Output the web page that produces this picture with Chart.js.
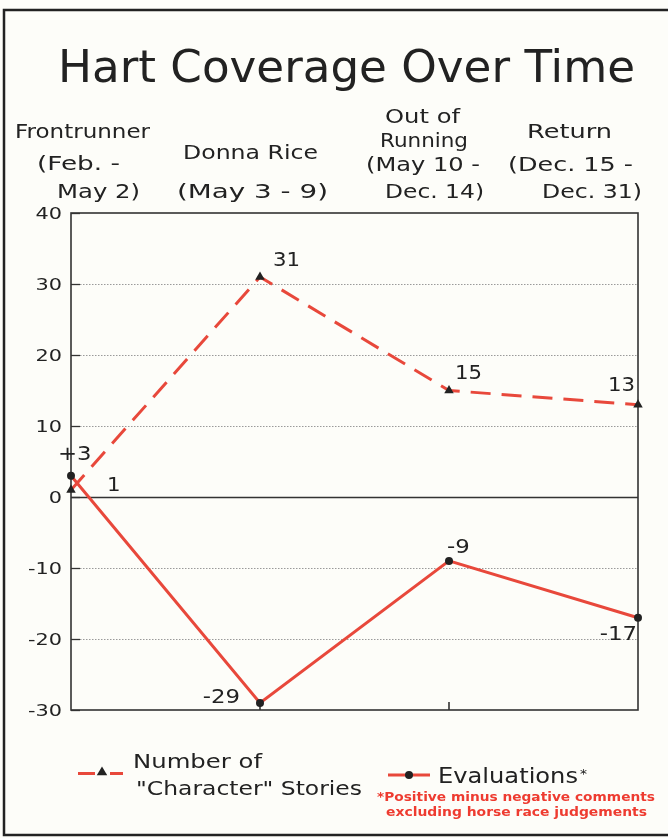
<!DOCTYPE html>
<html><head><meta charset="utf-8">
<script src="https://cdn.jsdelivr.net/npm/chart.js@4.4.1/dist/chart.umd.min.js"></script>
<style>html,body{margin:0;padding:0;background:#fdfdf9;} canvas{display:block}</style>
</head><body>
<canvas id="c" width="668" height="838"></canvas>
<script>
// ---- data ----
const title = 'Hart Coverage Over Time';
const categories = ['Frontrunner (Feb. - May 2)', 'Donna Rice (May 3 - 9)', 'Out of Running (May 10 - Dec. 14)', 'Return (Dec. 15 - Dec. 31)'];
const categoryLines = [['Frontrunner', '(Feb. -', 'May 2)'], ['Donna Rice', '(May 3 - 9)'], ['Out of', 'Running', '(May 10 -', 'Dec. 14)'], ['Return', '(Dec. 15 -', 'Dec. 31)']];
const characterStories = [1, 31, 15, 13];
const evaluations = [3, -29, -9, -17];
const yTicks = [40, 30, 20, 10, 0, -10, -20, -30];
const legendStories = ['Number of', '"Character" Stories'];
const legendEval = 'Evaluations';
const footnote = ['*Positive minus negative comments', 'excluding horse race judgements'];

// ---- styles / layout ----
const RED = '#e8483b';
const INK = '#222';
const catLayout = [
  [[15,138,135],[37,170,83],[57,198,83]],
  [[183,159,135],[177,198,151]],
  [[385,123,75],[380,147,88],[366,171,114],[385,198,99]],
  [[527,138,85],[508,171,125],[542,198,100]]
];
// [dx from point, dy from point (baseline), align]
const storyLabelOff = [[36,1,'left'],[13,-11,'left'],[6,-12,'left'],[-3,-14,'right']];
const evalLabelOff = [[-13,-16,'left'],[-20,0,'right'],[-2,-8,'left'],[-1,22,'right']];

function fitText(ctx, txt, left, base, width, size, weight, color){
  ctx.save();
  ctx.font = `${weight} ${size}px "DejaVu Sans"`;
  ctx.fillStyle = color; ctx.textAlign = 'left'; ctx.textBaseline = 'alphabetic';
  const w = ctx.measureText(txt).width;
  ctx.translate(left, base); ctx.scale(width / w, 1);
  ctx.fillText(txt, 0, 0);
  ctx.restore();
}
function stretchText(ctx, txt, x, base, sx, size, weight, color, align){
  ctx.save();
  ctx.font = `${weight} ${size}px "DejaVu Sans"`;
  ctx.fillStyle = color; ctx.textBaseline = 'alphabetic';
  const w = ctx.measureText(txt).width * sx;
  let left = align === 'right' ? x - w : (align === 'center' ? x - w/2 : x);
  ctx.translate(left, base); ctx.scale(sx, 1);
  ctx.textAlign = 'left';
  ctx.fillText(txt, 0, 0);
  ctx.restore();
}
function triangle(ctx, x, y, r){
  ctx.beginPath(); ctx.moveTo(x, y - r); ctx.lineTo(x + r*0.95, y + r*0.6); ctx.lineTo(x - r*0.95, y + r*0.6); ctx.closePath();
  ctx.fillStyle = INK; ctx.fill();
}
function dot(ctx, x, y, r){
  ctx.beginPath(); ctx.arc(x, y, r, 0, Math.PI*2); ctx.fillStyle = INK; ctx.fill();
}

const decor = {
  id: 'decor',
  beforeDraw(chart){
    const ctx = chart.ctx, a = chart.chartArea, ys = chart.scales.y, xs = chart.scales.x;
    ctx.save();
    ctx.fillStyle = '#fdfdf9'; ctx.fillRect(0, 0, chart.width, chart.height);
    // frame
    ctx.strokeStyle = INK; ctx.lineWidth = 2.5;
    ctx.strokeRect(4, 10, 720, 825);
    // grid
    yTicks.forEach(v => {
      const y = Math.round(ys.getPixelForValue(v)) + 0.5;
      if (v !== 0 && v !== 40 && v !== -30) {
        ctx.strokeStyle = '#9a9a9a'; ctx.lineWidth = 1; ctx.setLineDash([1.5, 1.5]);
        ctx.beginPath(); ctx.moveTo(a.left + 9, y); ctx.lineTo(a.right, y); ctx.stroke();
        ctx.setLineDash([]);
      }
      ctx.strokeStyle = '#333'; ctx.lineWidth = 1.3;
      ctx.beginPath(); ctx.moveTo(a.left, y); ctx.lineTo(a.left + 9, y); ctx.stroke();
      stretchText(ctx, String(v), a.left - 9, ys.getPixelForValue(v) + 6, 1.3, 16, 'normal', INK, 'right');
    });
    // zero line
    ctx.strokeStyle = '#333'; ctx.lineWidth = 1.5;
    const y0 = Math.round(ys.getPixelForValue(0)) + 0.5;
    ctx.beginPath(); ctx.moveTo(a.left, y0); ctx.lineTo(a.right, y0); ctx.stroke();
    // box
    ctx.lineWidth = 1.6;
    ctx.strokeRect(a.left, a.top, a.right - a.left, a.bottom - a.top);
    // bottom ticks
    [1, 2].forEach(i => {
      const x = xs.getPixelForValue(i);
      ctx.beginPath(); ctx.moveTo(x, a.bottom); ctx.lineTo(x, a.bottom - 8); ctx.stroke();
    });
    // title
    fitText(ctx, title, 58, 82, 577, 44, 'normal', INK);
    // category labels
    categoryLines.forEach((lines, i) => {
      lines.forEach((t, j) => {
        const L = catLayout[i][j];
        fitText(ctx, t, L[0], L[1], L[2], 19.5, 'normal', INK);
      });
    });
    ctx.restore();
  },
  afterDatasetsDraw(chart){
    const ctx = chart.ctx;
    ctx.save();
    const m0 = chart.getDatasetMeta(0).data, m1 = chart.getDatasetMeta(1).data;
    characterStories.forEach((v, i) => {
      const o = storyLabelOff[i];
      stretchText(ctx, String(v), m0[i].x + o[0], m0[i].y + o[1], 1.12, 19, 'normal', INK, o[2]);
    });
    evaluations.forEach((v, i) => {
      const o = evalLabelOff[i];
      const t = v > 0 ? '+' + v : String(v);
      stretchText(ctx, t, m1[i].x + o[0], m1[i].y + o[1], 1.2, 19, 'normal', INK, o[2]);
    });
    // legend
    ctx.strokeStyle = RED; ctx.lineWidth = 3;
    ctx.beginPath(); ctx.moveTo(78, 773.5); ctx.lineTo(95, 773.5); ctx.moveTo(110, 773.5); ctx.lineTo(123, 773.5); ctx.stroke();
    triangle(ctx, 102, 772, 5.5);
    fitText(ctx, legendStories[0], 133, 768, 129, 19.5, 'normal', INK);
    fitText(ctx, legendStories[1], 136, 795, 226, 19.5, 'normal', INK);
    ctx.strokeStyle = RED; ctx.lineWidth = 3;
    ctx.beginPath(); ctx.moveTo(388, 775); ctx.lineTo(430, 775); ctx.stroke();
    dot(ctx, 409, 775, 4);
    fitText(ctx, legendEval, 438, 783, 140, 20.5, 'normal', INK);
    fitText(ctx, '*', 580, 778, 7, 12, 'normal', INK);
    fitText(ctx, footnote[0], 377, 801, 278, 12.5, 'bold', '#ee3b30');
    fitText(ctx, footnote[1], 386, 816, 261, 12.5, 'bold', '#ee3b30');
    ctx.restore();
  }
};

new Chart(document.getElementById('c'), {
  type: 'line',
  data: {
    labels: categories,
    datasets: [
      { label: legendStories.join(' '), data: characterStories, borderColor: RED, borderWidth: 3, borderDash: [20, 11],
        pointStyle: 'triangle', pointRadius: 5.5, pointBackgroundColor: INK, pointBorderColor: INK, pointBorderWidth: 0,
        tension: 0, clip: false },
      { label: legendEval, data: evaluations, borderColor: RED, borderWidth: 3,
        pointStyle: 'circle', pointRadius: 4, pointBackgroundColor: INK, pointBorderColor: INK, pointBorderWidth: 0,
        tension: 0, clip: false }
    ]
  },
  options: {
    responsive: false, animation: false, devicePixelRatio: 1,
    layout: { padding: { left: 71, right: 30, top: 213, bottom: 128 } },
    scales: {
      x: { display: false, offset: false },
      y: { display: false, min: -30, max: 40 }
    },
    plugins: { legend: { display: false }, tooltip: { enabled: false }, title: { display: false } }
  },
  plugins: [decor]
});
</script>
</body></html>
